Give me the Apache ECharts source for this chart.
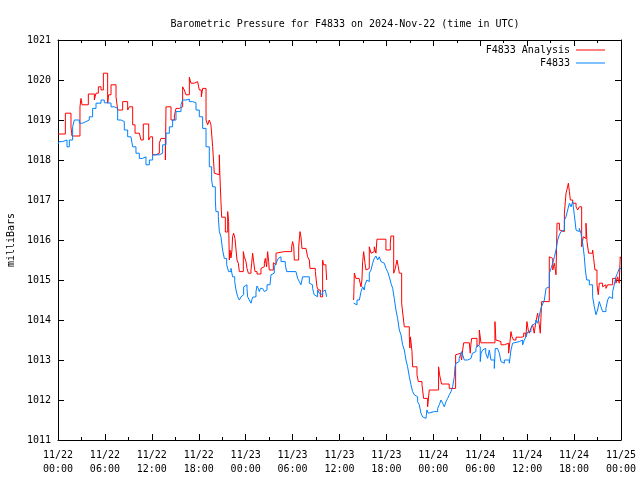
<!DOCTYPE html>
<html><head><meta charset="utf-8">
<script src="https://cdn.jsdelivr.net/npm/echarts@6/dist/echarts.min.js"></script>
<style>html,body{margin:0;padding:0;background:#fff}#c{width:640px;height:480px}</style>
</head><body><div id="c"></div>
<script>
const titleText = 'Barometric Pressure for F4833 on 2024-Nov-22 (time in UTC)';
const yAxisName = 'milliBars';
const seriesNames = ['F4833 Analysis', 'F4833'];
const xTickLabels = ['11/22\n00:00','11/22\n06:00','11/22\n12:00','11/22\n18:00','11/23\n00:00','11/23\n06:00','11/23\n12:00','11/23\n18:00','11/24\n00:00','11/24\n06:00','11/24\n12:00','11/24\n18:00','11/25\n00:00'];

// hours since 11/22 00:00 UTC
const blueTimes = [0,0.17,0.6,1.15,1.45,1.87,2.09,2.73,3.15,3.58,4.0,4.43,4.86,5.5,5.92,6.35,6.78,7.2,7.63,8.06,8.48,8.91,9.33,9.55,9.97,10.4,10.8,11.25,11.68,12.1,12.53,12.96,13.38,13.81,14.24,14.66,15.09,15.73,15.94,16.37,16.8,17.22,17.65,18.07,18.5,18.93,19.35,19.65,19.78,20.12,20.2,20.5,20.63,20.84,21.05,21.27,21.57,21.82,22.12,22.33,22.6,22.76,22.98,23.2,23.4,23.6,23.74,23.91,24.17,24.25,24.47,24.68,24.89,25.1,25.32,25.45,25.62,25.75,25.88,26.17,26.39,26.6,26.73,27.11,27.24,27.45,27.66,27.88,28.09,28.17,28.3,28.52,29.07,29.24,30.43,30.65,30.86,31.07,31.28,32.14,32.35,32.56,32.77,32.99,33.2,33.41,33.63,33.84,34.05,34.18,34.35,34.4,37.81,37.9,38.24,38.54,38.75,38.96,39.17,39.26,39.51,39.69,39.81,40.03,40.24,40.45,40.66,40.88,41.09,41.3,41.52,41.73,41.94,42.16,42.37,42.58,42.8,43.0,43.22,43.43,43.65,43.86,44.07,44.29,44.5,44.71,44.93,45.14,45.35,45.56,45.78,45.99,46.2,46.42,46.63,46.84,47.06,47.18,47.35,47.48,48.12,48.33,48.55,48.76,48.98,49.19,49.4,49.62,49.83,50.04,50.26,50.47,50.68,50.77,50.9,51.1,51.3,51.53,51.62,51.75,51.96,52.39,52.82,53.0,53.24,53.45,53.67,53.88,54.0,54.1,54.3,54.5,54.7,54.95,55.16,55.37,55.8,55.92,56.2,56.44,56.65,56.86,57.08,57.72,57.93,58.14,58.36,59.0,59.2,59.42,59.63,59.84,60.06,60.27,60.48,60.7,60.9,61.12,61.34,61.55,61.77,61.98,62.2,62.41,62.62,62.84,63.05,63.27,63.48,63.69,63.9,64.12,64.33,64.55,64.76,64.97,65.18,65.4,65.61,65.82,66.03,66.25,66.46,66.67,66.88,67.1,67.31,67.44,67.61,67.95,68.16,68.37,68.59,68.8,69.0,69.22,69.44,69.65,69.86,70.07,70.29,70.5,70.71,70.93,71.14,71.35,71.56,71.78,72.0];
const bluePressure = [1018.4,1018.46,1018.5,1018.33,1018.5,1018.83,1019.0,1018.92,1018.96,1019.0,1019.08,1019.29,1019.42,1019.5,1019.43,1019.42,1019.33,1019.29,1019.0,1018.96,1018.75,1018.58,1018.54,1018.33,1018.17,1018.04,1018.08,1017.88,1018.0,1018.13,1018.13,1018.17,1018.38,1018.67,1018.83,1019.0,1019.21,1019.38,1019.5,1019.52,1019.46,1019.43,1019.25,1019.08,1018.79,1018.33,1017.83,1017.5,1017.33,1017.0,1016.71,1016.58,1016.21,1016.08,1015.75,1015.54,1015.38,1015.21,1015.29,1015.08,1014.96,1014.75,1014.58,1014.5,1014.58,1014.63,1014.83,1014.88,1014.79,1014.58,1014.5,1014.42,1014.57,1014.58,1014.71,1014.85,1014.79,1014.71,1014.79,1014.79,1014.71,1014.75,1014.88,1014.92,1015.13,1015.17,1015.33,1015.42,1015.46,1015.54,1015.58,1015.46,1015.38,1015.21,1015.17,1015.04,1014.96,1014.88,1015.08,1014.92,1014.88,1014.79,1014.63,1014.58,1014.75,1014.67,1014.63,1014.71,1014.75,1014.79,1014.58,null,1014.42,1014.38,1014.5,1014.54,1014.71,1014.83,1014.75,1014.88,1015.0,1014.96,1015.17,1015.25,1015.42,1015.54,1015.6,1015.5,1015.58,1015.46,1015.42,1015.38,1015.29,1015.21,1015.08,1014.92,1014.79,1014.54,1014.25,1014.04,1013.75,1013.63,1013.38,1013.25,1013.0,1012.83,1012.58,1012.38,1012.21,1012.13,1012.08,1011.96,1011.88,1011.67,1011.58,1011.54,1011.58,1011.75,1011.67,1011.71,1011.75,1011.71,1011.79,1011.88,1012.0,1011.92,1011.83,1011.96,1012.04,1012.13,1012.21,1012.33,1012.58,1012.83,1012.92,1012.96,1013.04,1013.08,1013.21,1013.13,1013.0,1013.04,1013.08,1013.17,1013.21,1013.29,1013.38,1013.33,1012.96,1013.17,1013.25,1013.29,1013.17,1013.04,1013.25,1013.0,1012.79,1013.29,1013.25,1013.17,1012.96,1012.92,1013.0,1012.92,1013.25,1013.42,1013.46,1013.42,1013.5,1013.38,1013.5,1013.58,1013.7,1013.71,1013.79,1013.88,1013.92,1014.0,1013.92,1014.1,1014.3,1014.4,1014.5,1014.79,1014.83,1015.17,1015.29,1015.42,1015.58,1015.75,1016.0,1016.13,1016.21,1016.25,1016.5,1016.58,1016.75,1016.92,1016.83,1016.96,1016.63,1016.25,1016.21,1016.29,1016.17,1015.92,1015.58,1015.25,1015.0,1014.88,1014.88,1014.58,1014.33,1014.13,1014.25,1014.46,1014.33,1014.21,1014.21,1014.29,1014.5,1014.58,1014.54,1014.71,1014.88,1015.08,1015.17,1015.29,1015.3];

const redTimes = [0,0.94,1.66,1.79,2.81,2.94,3.07,3.88,4.65,4.86,5.16,5.5,5.8,6.35,6.48,6.78,7.42,7.63,8.27,8.91,9.12,9.55,9.85,10.4,10.61,10.91,11.6,11.81,12.1,12.53,12.96,13.17,13.73,13.81,14.45,14.88,15.09,15.52,15.94,16.15,16.37,16.8,17.0,17.43,17.86,18.07,18.33,18.5,18.93,19.14,19.35,19.56,19.78,19.99,20.2,20.63,20.7,20.84,20.93,21.4,21.7,21.82,21.91,21.99,22.12,22.25,22.33,22.46,22.63,22.8,22.89,23.06,23.19,23.7,23.83,24.04,24.17,24.34,24.68,24.77,24.89,25.02,25.19,25.45,25.96,26.17,26.39,26.51,26.68,26.81,26.94,27.02,27.54,27.66,27.88,28.09,28.94,29.16,29.88,30.0,30.15,30.22,30.78,30.95,31.07,31.2,31.71,31.92,32.14,32.22,32.91,33.12,33.29,33.55,33.84,33.97,34.27,34.36,34.4,37.81,37.9,38.1,38.5,38.75,38.87,38.96,39.09,39.26,39.39,39.6,39.81,40.03,40.24,40.45,40.66,40.79,41.94,42.5,42.58,42.93,43.14,43.35,43.52,43.65,43.95,44.07,44.29,44.93,45.0,45.07,45.27,45.35,45.91,46.08,46.55,46.76,47.27,47.35,47.48,48.67,48.8,49.05,50.03,50.85,51.02,51.53,51.62,51.75,51.88,52.6,52.72,52.8,52.9,53.58,53.75,53.88,54.0,54.09,55.88,56.0,56.14,56.65,57.08,57.63,57.8,57.93,58.06,58.27,58.57,59.2,59.55,59.84,59.97,60.14,60.27,60.48,60.7,60.9,61.12,61.34,61.55,61.68,61.85,62.83,63.05,63.27,63.48,63.69,63.82,64.12,64.24,64.76,64.97,65.1,65.27,65.4,65.52,65.82,66.25,66.46,66.67,66.97,67.18,67.31,67.52,67.65,67.86,68.37,68.5,68.67,68.93,69.1,69.22,69.65,69.86,70.07,70.29,70.93,71.35,71.56,71.78,71.9,72.0];
const redPressure = [1018.65,1019.17,1018.83,1018.6,1019.33,1019.54,1019.38,1019.65,1019.5,1019.67,1019.83,1019.75,1020.17,1019.42,1019.63,1019.88,1019.58,1019.25,1019.46,1019.25,1019.33,1018.88,1018.67,1018.63,1018.5,1018.9,1018.5,1018.58,1018.13,1018.17,1018.42,1018.54,1018.0,1019.33,1019.0,1019.1,1019.29,1019.33,1019.83,1019.75,1019.63,1020.07,1019.92,1019.96,1019.92,1019.75,1019.58,1019.79,1019.0,1018.88,1019.0,1018.88,1018.33,1017.67,1017.63,1018.13,1017.63,1016.96,1016.57,1016.2,1016.71,1016.46,1015.5,1015.75,1015.55,1015.75,1016.08,1016.17,1016.04,1016.0,1015.5,1015.42,1015.21,1015.71,1015.58,1015.46,1015.29,1015.17,1015.25,1015.42,1015.67,1015.46,1015.21,1015.15,1015.29,1015.33,1015.42,1015.54,1015.33,1015.71,1015.46,1015.25,1015.43,1015.38,1015.67,1015.71,1015.73,1015.71,1015.83,1015.96,1015.83,1015.5,1015.83,1016.21,1016.08,1015.79,1015.75,1015.58,1015.5,1015.29,1015.21,1014.83,1014.75,1014.58,1015.5,1015.38,1015.29,1015.0,null,1014.5,1015.17,1015.04,1015.0,1014.83,1015.0,1015.46,1015.71,1015.42,1015.25,1015.29,1015.83,1015.67,1015.71,1015.83,1015.67,1016.02,1015.75,1015.92,1016.1,1015.17,1015.29,1015.5,1015.33,1015.17,1014.42,1014.2,1013.83,1013.58,1013.3,1013.58,1013.21,1012.83,1012.63,1012.46,1012.38,1012.04,1011.83,1012.0,1012.25,1012.83,1012.63,1012.4,1012.29,1013.13,1013.17,1013.08,1013.0,1013.25,1013.43,1013.42,1013.17,1013.38,1013.54,1013.33,1013.38,1013.75,1013.71,1013.43,1013.96,1013.5,1013.46,1013.38,1013.42,1013.17,1013.46,1013.71,1013.58,1013.5,1013.57,1013.58,1013.67,1013.58,1013.96,1013.75,1013.67,1013.79,1013.88,1013.67,1013.96,1014.17,1013.88,1013.67,1014.46,1015.58,1015.54,1015.25,1015.42,1015.13,1016.42,1016.25,1016.21,1016.67,1017.17,1017.27,1017.42,1017.21,1017.0,1016.92,1016.83,1016.75,1016.83,1015.83,1016.08,1016.04,1016.42,1015.96,1015.67,1015.75,1015.54,1015.25,1014.88,1014.63,1014.92,1014.83,1014.88,1014.79,1014.88,1015.04,1014.92,1015.08,1014.92,1015.58,1015.54];

const FONT = 'DejaVu Sans Mono';
function pairs(ts, vs) { return ts.map((t, i) => [t, vs[i] === null ? '-' : vs[i]]); }

const chart = echarts.init(document.getElementById('c'), null, {renderer: 'canvas'});
const axisCommon = {
  type: 'value', min: 0, max: 72, interval: 6,
  axisLine: {show: true, onZero: false, lineStyle: {color: '#000', width: 1}},
  axisTick: {show: true, inside: true, length: 6, lineStyle: {color: '#000'}},
  minorTick: {show: true, splitNumber: 2, length: 3, lineStyle: {color: '#000'}},
  splitLine: {show: false}
};
const yCommon = {
  type: 'value', min: 1011, max: 1021, interval: 1,
  axisLine: {show: true, onZero: false, lineStyle: {color: '#000', width: 1}},
  axisTick: {show: true, inside: true, length: 6, lineStyle: {color: '#000'}},
  splitLine: {show: false}
};
chart.setOption({
  animation: false,
  backgroundColor: '#fff',
  title: {
    text: titleText, left: 340, top: 14, textAlign: 'center',
    textStyle: {fontFamily: FONT, fontSize: 10, fontWeight: 'normal', color: '#000'}
  },
  legend: {
    data: seriesNames, orient: 'vertical', right: 30, top: 40, align: 'right',
    icon: 'rect', itemWidth: 29, itemHeight: 1, itemGap: 3,
    textStyle: {fontFamily: FONT, fontSize: 10, color: '#000', padding: [0, 1, 0, 0]}
  },
  grid: {left: 58, right: 19, top: 40, bottom: 40, containLabel: false, outerBoundsMode: 'none'},
  xAxis: [
    Object.assign({}, axisCommon, {
      position: 'bottom',
      axisLabel: {
        color: '#000', fontFamily: FONT, fontSize: 10, margin: 8, lineHeight: 14,
        formatter: v => xTickLabels[Math.round(v / 6)] || ''
      }
    }),
    Object.assign({}, axisCommon, {position: 'top', axisLabel: {show: false}})
  ],
  yAxis: [
    Object.assign({}, yCommon, {
      position: 'left', name: yAxisName, nameLocation: 'middle', nameRotate: 90, nameGap: 39,
      nameTextStyle: {fontFamily: FONT, fontSize: 10, color: '#000'},
      axisLabel: {color: '#000', fontFamily: FONT, fontSize: 10, margin: 7, formatter: v => String(v)}
    }),
    Object.assign({}, yCommon, {position: 'right', axisLabel: {show: false}})
  ],
  series: [
    {
      name: seriesNames[0], type: 'line', step: 'end', showSymbol: false, symbol: 'none',
      data: pairs(redTimes, redPressure), color: '#ff0000',
      lineStyle: {color: '#ff0000', width: 1}, connectNulls: false, z: 2
    },
    {
      name: seriesNames[1], type: 'line', step: 'end', showSymbol: false, symbol: 'none',
      data: pairs(blueTimes, bluePressure), color: '#0080ff',
      lineStyle: {color: '#0080ff', width: 1}, connectNulls: false, z: 3
    }
  ]
});
</script></body></html>
